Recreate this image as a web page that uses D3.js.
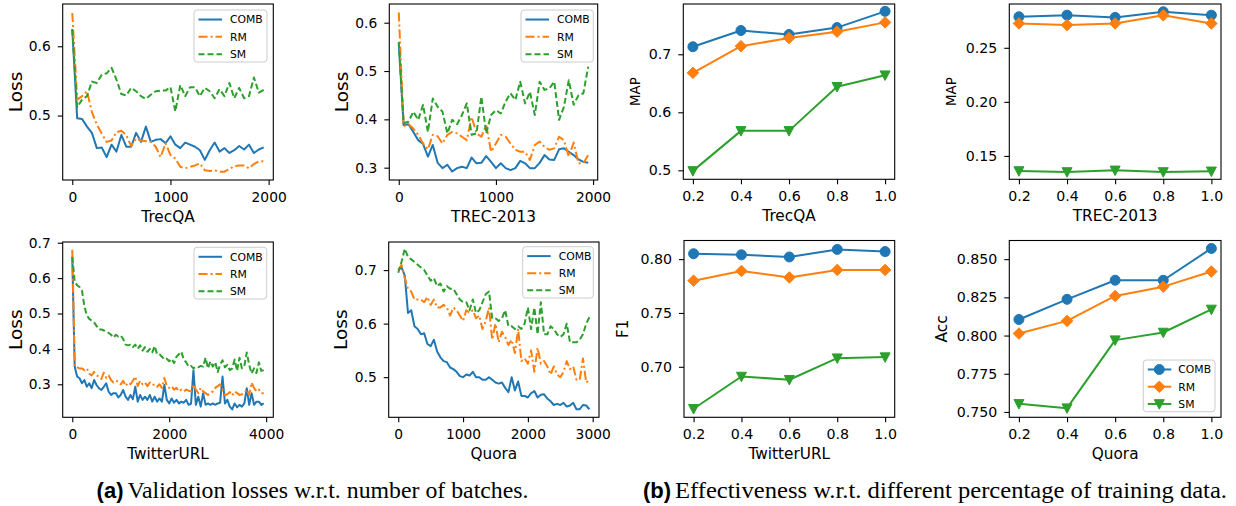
<!DOCTYPE html>
<html lang="en">
<head>
  <meta charset="UTF-8">
  <title>Losses and effectiveness</title>
  <script src="https://cdn.jsdelivr.net/npm/d3@7"></script>
  <style>
    body { margin: 0; background: #fff; }
    text { font-family: "DejaVu Sans", sans-serif; fill: #000; }
    .caption { font-family: "Liberation Serif", serif; }
    .captag { font-family: "Liberation Sans", sans-serif; font-weight: bold; }
  </style>
</head>
<body>
<script>
// series and shared categories
const seriesNames = ["COMB", "RM", "SM"];
const colors = ["#1f77b4", "#ff7f0e", "#2ca02c"];
const fractions = [0.2, 0.4, 0.6, 0.8, 1.0];
const batchStep = 50;

// (a) validation losses, one value every 50 batches
const trecqaComb = [0.625,0.496,0.495,0.484,0.475,0.453,0.454,0.440,0.458,0.448,0.472,0.455,0.455,0.475,0.462,0.484,0.462,0.465,0.466,0.460,
  0.470,0.458,0.453,0.461,0.458,0.455,0.450,0.436,0.450,0.461,0.448,0.453,0.446,0.450,0.456,0.451,0.458,0.446,0.451,0.454];
const trecqaRm = [0.648,0.523,0.528,0.535,0.505,0.487,0.474,0.462,0.464,0.476,0.478,0.472,0.456,0.467,0.464,0.463,0.462,0.455,0.440,0.460,
  0.443,0.438,0.426,0.424,0.426,0.428,0.431,0.421,0.420,0.421,0.419,0.419,0.423,0.427,0.428,0.428,0.424,0.430,0.434,0.434];
const trecqaSm = [0.624,0.512,0.523,0.528,0.549,0.547,0.559,0.561,0.569,0.552,0.531,0.529,0.540,0.535,0.528,0.524,0.530,0.535,0.536,0.536,
  0.541,0.506,0.544,0.528,0.541,0.541,0.528,0.540,0.535,0.525,0.538,0.528,0.547,0.525,0.540,0.525,0.528,0.555,0.533,0.537];

const trec2013Comb = [0.557,0.388,0.390,0.374,0.357,0.349,0.323,0.347,0.310,0.299,0.306,0.292,0.299,0.302,0.299,0.321,0.309,0.310,0.324,0.312,
  0.299,0.309,0.299,0.295,0.299,0.314,0.309,0.299,0.299,0.310,0.326,0.317,0.316,0.338,0.340,0.333,0.326,0.317,0.312,0.310];
const trec2013Rm = [0.621,0.386,0.390,0.381,0.368,0.350,0.338,0.368,0.365,0.350,0.368,0.374,0.371,0.364,0.357,0.405,0.371,0.364,0.388,0.333,
  0.350,0.368,0.364,0.350,0.337,0.333,0.333,0.316,0.347,0.354,0.343,0.337,0.340,0.364,0.357,0.323,0.352,0.309,0.309,0.326];
const trec2013Sm = [0.560,0.392,0.395,0.416,0.399,0.430,0.374,0.443,0.426,0.416,0.371,0.399,0.390,0.409,0.433,0.368,0.371,0.447,0.371,0.409,
  0.419,0.412,0.437,0.454,0.440,0.478,0.433,0.457,0.409,0.478,0.461,0.464,0.478,0.399,0.426,0.481,0.430,0.450,0.454,0.509];

const twitterComb = [0.660,0.350,0.322,0.317,0.303,0.312,0.293,0.303,0.289,0.312,0.298,0.289,0.284,0.293,0.303,0.279,0.270,0.275,0.275,0.263,
  0.270,0.284,0.265,0.256,0.270,0.258,0.293,0.251,0.270,0.256,0.265,0.256,0.270,0.251,0.265,0.251,0.260,0.251,0.298,0.256,
  0.246,0.260,0.248,0.256,0.246,0.251,0.248,0.256,0.242,0.245,0.340,0.242,0.265,0.237,0.275,0.242,0.246,0.242,0.246,0.242,
  0.246,0.248,0.322,0.246,0.256,0.237,0.229,0.246,0.235,0.242,0.237,0.246,0.289,0.242,0.275,0.242,0.251,0.251,0.242,0.246];
const twitterRm = [0.680,0.350,0.348,0.345,0.345,0.340,0.345,0.330,0.325,0.335,0.325,0.322,0.315,0.333,0.318,0.325,0.312,0.305,0.310,0.308,
  0.300,0.310,0.295,0.305,0.300,0.310,0.322,0.295,0.310,0.300,0.305,0.295,0.305,0.298,0.300,0.293,0.300,0.290,0.318,0.295,
  0.290,0.295,0.285,0.290,0.280,0.285,0.280,0.285,0.282,0.280,0.300,0.285,0.275,0.290,0.280,0.275,0.270,0.275,0.280,0.290,
  0.295,0.300,0.285,0.270,0.272,0.278,0.268,0.280,0.275,0.270,0.272,0.275,0.285,0.270,0.305,0.290,0.280,0.285,0.275,0.275];
const twitterSm = [0.660,0.590,0.580,0.575,0.565,0.520,0.495,0.485,0.480,0.475,0.465,0.455,0.455,0.452,0.450,0.445,0.440,0.432,0.440,0.435,
  0.438,0.428,0.412,0.410,0.412,0.405,0.412,0.400,0.410,0.395,0.405,0.392,0.400,0.390,0.408,0.385,0.385,0.378,0.370,0.372,
  0.365,0.372,0.360,0.378,0.385,0.392,0.370,0.362,0.350,0.352,0.345,0.350,0.348,0.352,0.350,0.375,0.345,0.365,0.350,0.362,
  0.335,0.355,0.368,0.348,0.355,0.340,0.345,0.370,0.338,0.375,0.345,0.352,0.390,0.355,0.330,0.345,0.332,0.362,0.338,0.340];

const quoraComb = [0.700,0.705,0.690,0.620,0.625,0.595,0.590,0.580,0.582,0.562,0.558,0.570,0.548,0.537,0.530,0.528,0.518,0.515,0.510,0.502,
  0.500,0.505,0.503,0.510,0.500,0.500,0.495,0.495,0.500,0.495,0.490,0.488,0.490,0.480,0.472,0.500,0.475,0.492,0.465,0.465,
  0.462,0.470,0.474,0.462,0.467,0.468,0.460,0.455,0.448,0.450,0.448,0.452,0.445,0.447,0.452,0.440,0.440,0.448,0.447,0.440];
const quoraRm = [0.700,0.710,0.685,0.665,0.660,0.645,0.645,0.645,0.640,0.650,0.635,0.645,0.630,0.630,0.635,0.630,0.615,0.630,0.625,0.615,
  0.605,0.625,0.620,0.625,0.610,0.615,0.590,0.605,0.630,0.570,0.600,0.565,0.585,0.575,0.560,0.570,0.545,0.590,0.530,0.535,
  0.525,0.550,0.510,0.555,0.525,0.530,0.520,0.505,0.520,0.505,0.500,0.510,0.530,0.515,0.520,0.495,0.495,0.535,0.490,0.495];
const quoraSm = [0.695,0.715,0.740,0.725,0.720,0.715,0.710,0.705,0.700,0.690,0.680,0.685,0.670,0.675,0.660,0.670,0.665,0.665,0.655,0.645,
  0.640,0.640,0.625,0.645,0.620,0.625,0.640,0.655,0.660,0.610,0.610,0.605,0.610,0.625,0.595,0.595,0.590,0.595,0.590,0.600,
  0.630,0.590,0.630,0.580,0.640,0.580,0.580,0.595,0.590,0.580,0.575,0.580,0.600,0.565,0.565,0.565,0.570,0.580,0.600,0.612];

// (b) effectiveness vs. fraction of training data
const trecqaMapComb = [0.713, 0.741, 0.734, 0.746, 0.774];
const trecqaMapRm = [0.668, 0.714, 0.728, 0.739, 0.755];
const trecqaMapSm = [0.499, 0.568, 0.568, 0.644, 0.664];
const trec2013MapComb = [0.2787, 0.2802, 0.2781, 0.2833, 0.2802];
const trec2013MapRm = [0.2725, 0.2710, 0.2725, 0.2800, 0.2725];
const trec2013MapSm = [0.1361, 0.1352, 0.1367, 0.1352, 0.1358];
const twitterF1Comb = [0.805, 0.804, 0.802, 0.809, 0.807];
const twitterF1Rm = [0.780, 0.789, 0.783, 0.790, 0.790];
const twitterF1Sm = [0.661, 0.691, 0.688, 0.708, 0.709];
const quoraAccComb = [0.8105, 0.8237, 0.8362, 0.8362, 0.8570];
const quoraAccRm = [0.8013, 0.8096, 0.8259, 0.8320, 0.8419];
const quoraAccSm = [0.7553, 0.7525, 0.7970, 0.8020, 0.8171];

const batches = n => d3.range(n).map(i => i * batchStep);

const W = 1236, H = 506;
const svg = d3.select("body").append("svg").attr("width", W).attr("height", H);

const dashes = ["", "9,3,2,3", "6,3"];

function markerPath(k, r) {
  if (k === 0) return d3.symbol(d3.symbolCircle, Math.PI * r * r)();
  if (k === 1) { const s = r * 1.15; return `M0,${-s}L${s},0L0,${s}L${-s},0Z`; }
  return `M${-r},${-r * 0.85}L${r},${-r * 0.85}L0,${r * 1.05}Z`;
}

const panels = [
  { box: [62.7, 273.3, 4, 180], xd: [-97.5, 2047.5], yd: [0.407, 0.661], xt: [0, 1000, 2000], yt: [0.5, 0.6],
    xf: "d", yf: ".1f", xl: "TrecQA", yl: "Loss", ylx: 15, yls: 18.5,
    data: [trecqaComb, trecqaRm, trecqaSm], legend: [194, 267, 10, 62] },
  { box: [389.3, 597.7, 4, 180], xd: [-97.5, 2047.5], yd: [0.2745, 0.6387], xt: [0, 1000, 2000], yt: [0.3, 0.4, 0.5, 0.6],
    xf: "d", yf: ".1f", xl: "TREC-2013", yl: "Loss", ylx: 341.7, yls: 18.5,
    data: [trec2013Comb, trec2013Rm, trec2013Sm], legend: [521, 593.3, 10, 62] },
  { box: [62.7, 273.3, 242, 417.3], xd: [-197.5, 4147.5], yd: [0.2068, 0.702], xt: [0, 2000, 4000], yt: [0.3, 0.4, 0.5, 0.6, 0.7],
    xf: "d", yf: ".1f", xl: "TwitterURL", yl: "Loss", ylx: 15, yls: 18.5,
    data: [twitterComb, twitterRm, twitterSm], legend: [194, 266.7, 247.3, 299] },
  { box: [388.7, 599, 242, 417.3], xd: [-147.5, 3097.5], yd: [0.425, 0.7525], xt: [0, 1000, 2000, 3000], yt: [0.5, 0.6, 0.7],
    xf: "d", yf: ".1f", xl: "Quora", yl: "Loss", ylx: 340, yls: 18.5,
    data: [quoraComb, quoraRm, quoraSm], legend: [522.7, 593.3, 246.7, 298] },
  { box: [683.3, 894.7, 4, 179.3], xd: [0.16, 1.04], yd: [0.4845, 0.7867], xt: fractions, yt: [0.5, 0.6, 0.7],
    xf: ".1f", yf: ".1f", xl: "TrecQA", yl: "MAP", ylx: 635, yls: 13.4,
    data: [trecqaMapComb, trecqaMapRm, trecqaMapSm], markers: true },
  { box: [1009.3, 1221, 4, 179.3], xd: [0.16, 1.04], yd: [0.1284, 0.2905], xt: fractions, yt: [0.15, 0.20, 0.25],
    xf: ".1f", yf: ".2f", xl: "TREC-2013", yl: "MAP", ylx: 950.7, yls: 13.4,
    data: [trec2013MapComb, trec2013MapRm, trec2013MapSm], markers: true },
  { box: [684, 894.7, 240.5, 417.3], xd: [0.16, 1.04], yd: [0.6531, 0.8173], xt: fractions, yt: [0.70, 0.75, 0.80],
    xf: ".1f", yf: ".2f", xl: "TwitterURL", yl: "F1", ylx: 623, yls: 15,
    data: [twitterF1Comb, twitterF1Rm, twitterF1Sm], markers: true },
  { box: [1009.3, 1221, 240.5, 417.3], xd: [0.16, 1.04], yd: [0.7465, 0.8622], xt: fractions, yt: [0.750, 0.775, 0.800, 0.825, 0.850],
    xf: ".1f", yf: ".3f", xl: "Quora", yl: "Acc", ylx: 941.7, yls: 15.4,
    data: [quoraAccComb, quoraAccRm, quoraAccSm], markers: true, legend: [1143.3, 1215, 360, 411.7] }
];

function drawPanel(p) {
  const [l, r, t, b] = p.box;
  const g = svg.append("g");
  const x = d3.scaleLinear().domain(p.xd).range([l, r]);
  const y = d3.scaleLinear().domain(p.yd).range([b, t]);

  const xa = g.append("g").attr("transform", `translate(0,${b})`)
    .call(d3.axisBottom(x).tickValues(p.xt).tickFormat(d3.format(p.xf)).tickSize(5).tickPadding(7).tickSizeOuter(0));
  const ya = g.append("g").attr("transform", `translate(${l},0)`)
    .call(d3.axisLeft(y).tickValues(p.yt).tickFormat(d3.format(p.yf)).tickSize(5).tickPadding(7).tickSizeOuter(0));
  [xa, ya].forEach(a => {
    a.select(".domain").remove();
    a.selectAll("line").attr("stroke", "#000").attr("stroke-width", 1.1);
    a.selectAll("text").attr("font-size", p.markers ? 14.2 : 13.8).attr("font-family", "DejaVu Sans").attr("fill", "#000");
  });

  p.data.forEach((vals, k) => {
    const xs = p.markers ? fractions : batches(vals.length);
    const pts = vals.map((v, i) => [xs[i], v]);
    g.append("path").datum(pts)
      .attr("fill", "none").attr("stroke", colors[k]).attr("stroke-width", 2)
      .attr("stroke-dasharray", p.markers ? null : (dashes[k] || null))
      .attr("stroke-linejoin", "round")
      .attr("d", d3.line().x(d => x(d[0])).y(d => y(d[1])));
    if (p.markers) {
      g.selectAll(null).data(pts).enter().append("path")
        .attr("transform", d => `translate(${x(d[0])},${y(d[1])})`)
        .attr("d", markerPath(k, 5))
        .attr("fill", colors[k]).attr("stroke", colors[k]).attr("stroke-width", 1);
    }
  });

  g.append("rect").attr("x", l).attr("y", t).attr("width", r - l).attr("height", b - t)
    .attr("fill", "none").attr("stroke", "#000").attr("stroke-width", 1.1);

  g.append("text").attr("x", (l + r) / 2).attr("y", b + 42)
    .attr("text-anchor", "middle").attr("font-size", 15.3).text(p.xl);
  g.append("text")
    .attr("transform", `translate(${p.ylx + p.yls * 0.36},${(t + b) / 2}) rotate(-90)`)
    .attr("text-anchor", "middle").attr("font-size", p.yls).text(p.yl);

  if (p.legend) {
    const [lx0, lx1, ly0, ly1] = p.legend;
    const lg = g.append("g");
    lg.append("rect").attr("x", lx0).attr("y", ly0).attr("width", lx1 - lx0).attr("height", ly1 - ly0)
      .attr("rx", 3).attr("fill", "#fff").attr("fill-opacity", 0.8).attr("stroke", "#cccccc").attr("stroke-width", 1);
    const rowH = (ly1 - ly0) / 3;
    seriesNames.forEach((name, k) => {
      const yy = ly0 + rowH * (k + 0.55);
      lg.append("line").attr("x1", lx0 + 4.5).attr("x2", lx0 + 28).attr("y1", yy).attr("y2", yy)
        .attr("stroke", colors[k]).attr("stroke-width", 2)
        .attr("stroke-dasharray", p.markers ? null : (dashes[k] || null));
      if (p.markers) {
        lg.append("path").attr("transform", `translate(${lx0 + 16},${yy})`).attr("d", markerPath(k, 5))
          .attr("fill", colors[k]).attr("stroke", colors[k]);
      }
      lg.append("text").attr("x", lx0 + (p.markers ? 35 : 36)).attr("y", yy + 3.9)
        .attr("font-size", 10.8).text(name);
    });
  }
}

panels.forEach(drawPanel);

// captions
const captions = [
  { tag: "(a)", text: "Validation losses w.r.t. number of batches.", x: 123.5, w: 401 },
  { tag: "(b)", text: "Effectiveness w.r.t. different percentage of training data.", x: 671, w: 552 }
];
captions.forEach(c => {
  svg.append("text").attr("class", "captag").attr("x", c.x).attr("y", 498)
    .attr("text-anchor", "end").attr("font-size", 22).text(c.tag);
  svg.append("text").attr("class", "caption").attr("x", c.x + 4).attr("y", 498)
    .attr("font-size", 24).attr("textLength", c.w).attr("lengthAdjust", "spacingAndGlyphs").text(c.text);
});
</script>
</body>
</html>
